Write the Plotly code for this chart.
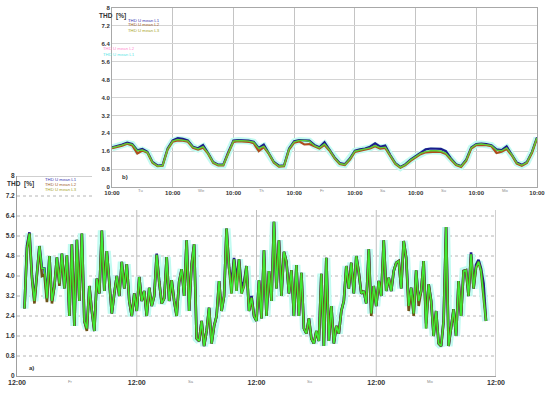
import pandas as pd
import plotly.graph_objects as go

# ---------------- data ----------------
# panel b) : one week, 2-hour readings from Monday 10:00
top_start = "2019-03-04 10:00"
top_step = "2h"
L1_top = [1.77, 1.82, 1.9, 1.98, 1.92, 1.64, 1.7, 1.57, 1.12, 0.96, 0.98, 1.72,
          2.08, 2.18, 2.15, 2.08, 1.8, 1.73, 1.88, 1.52, 1.12, 1.0, 1.0, 1.57,
          2.08, 2.1, 2.1, 2.07, 2.02, 1.75, 1.9, 1.53, 1.12, 0.95, 0.97, 1.72,
          2.05, 2.1, 2.1, 2.07, 1.88, 1.78, 2.0, 1.68, 1.32, 1.07, 1.02, 1.27,
          1.62, 1.68, 1.72, 1.8, 1.95, 1.8, 1.85, 1.43, 1.07, 0.9, 1.02, 1.22,
          1.38, 1.53, 1.68, 1.72, 1.7, 1.7, 1.6, 1.28, 1.02, 0.94, 1.22, 1.77,
          1.92, 1.94, 1.92, 1.87, 1.68, 1.65, 1.82, 1.48, 1.09, 0.99, 1.12, 1.57,
          2.22]
L2_top = [1.74, 1.78, 1.85, 1.93, 1.86, 1.5, 1.63, 1.53, 1.08, 0.93, 0.95, 1.68,
          2.03, 2.08, 2.07, 2.02, 1.75, 1.67, 1.76, 1.48, 1.08, 0.96, 0.96, 1.52,
          2.02, 2.05, 2.05, 2.02, 1.96, 1.6, 1.78, 1.48, 1.08, 0.91, 0.93, 1.67,
          1.98, 2.04, 1.9, 1.92, 1.82, 1.72, 1.88, 1.62, 1.28, 1.03, 0.98, 1.22,
          1.57, 1.62, 1.65, 1.72, 1.82, 1.72, 1.75, 1.38, 1.03, 0.86, 0.98, 1.17,
          1.32, 1.47, 1.55, 1.58, 1.58, 1.57, 1.47, 1.22, 0.98, 0.9, 1.17, 1.72,
          1.87, 1.88, 1.87, 1.82, 1.52, 1.58, 1.7, 1.42, 1.05, 0.95, 1.07, 1.52,
          2.17]
L3_top = [1.75, 1.8, 1.87, 1.95, 1.9, 1.62, 1.65, 1.55, 1.1, 0.94, 0.96, 1.7,
          2.05, 2.12, 2.1, 2.05, 1.78, 1.7, 1.8, 1.5, 1.1, 0.98, 0.98, 1.55,
          2.05, 2.08, 2.08, 2.05, 2.0, 1.72, 1.82, 1.5, 1.1, 0.93, 0.95, 1.7,
          2.02, 2.08, 2.08, 2.05, 1.85, 1.75, 1.92, 1.65, 1.3, 1.05, 1.0, 1.25,
          1.6, 1.65, 1.68, 1.75, 1.85, 1.75, 1.78, 1.4, 1.05, 0.88, 1.0, 1.2,
          1.35, 1.5, 1.58, 1.62, 1.62, 1.6, 1.5, 1.25, 1.0, 0.92, 1.2, 1.75,
          1.9, 1.92, 1.9, 1.85, 1.65, 1.62, 1.75, 1.45, 1.07, 0.97, 1.1, 1.55,
          2.2]

# panel a) : four days, 30-minute readings from Thursday 13:30
bot_start = "2019-02-21 13:30"
bot_step = "30min"
L1_bot = [2.7, 5.2, 5.75, 4.0, 3.0, 4.0, 5.2, 4.3, 4.3, 3.1, 4.8, 3.0,
          3.6, 4.75, 3.7, 4.9, 3.5, 4.83, 2.4, 5.27, 2.0, 5.45, 3.0, 5.7,
          2.2, 1.9, 3.6, 2.6, 1.8, 3.9, 3.3, 5.82, 3.4, 5.0, 3.6, 2.5,
          3.3, 4.0, 3.2, 4.57, 3.5, 4.47, 3.0, 2.4, 3.3, 2.6, 3.96, 3.0,
          3.4, 2.4, 3.53, 2.8, 3.2, 4.9, 3.77, 2.9, 3.1, 4.76, 3.0, 3.83,
          3.0, 2.4, 3.77, 4.27, 3.2, 5.43, 2.6, 4.47, 5.27, 1.5, 1.4, 2.2,
          1.2, 1.8, 2.73, 1.3, 2.0, 2.4, 3.8, 2.6, 3.2, 5.9, 4.33, 3.7,
          4.72, 3.8, 4.67, 3.6, 3.75, 4.4, 2.6, 3.2, 2.4, 2.2, 3.83, 2.3,
          5.03, 2.4, 4.2, 3.0, 6.17, 3.5, 5.43, 3.2, 4.97, 4.57, 3.3, 4.23,
          2.4, 4.44, 2.4, 4.13, 1.9, 1.7, 2.3, 1.5, 1.3, 1.8, 1.4, 4.09,
          1.2, 4.73, 1.4, 2.8, 1.3, 2.0, 1.7, 2.6, 3.0, 4.4, 3.5, 4.53,
          3.3, 4.8, 4.13, 3.3, 3.4, 2.9, 5.07, 2.5, 3.6, 2.8, 3.8, 3.2,
          5.43, 3.4, 3.93, 3.4, 4.2, 4.53, 4.6, 3.5, 5.4, 4.73, 2.8, 3.53,
          2.5, 4.23, 3.0, 3.4, 4.6, 2.1, 3.67, 3.0, 1.6, 2.6, 1.3, 1.2,
          2.2, 5.96, 1.2, 2.0, 2.67, 1.6, 3.8, 2.4, 4.2, 4.23, 3.2, 4.95,
          3.5, 4.45, 4.65, 4.3, 3.7, 2.2]
L2_bot = [2.7, 5.1, 5.7, 3.9, 2.9, 4.0, 5.2, 4.0, 4.05, 2.95, 4.8, 2.9,
          3.6, 4.75, 3.6, 4.9, 3.5, 4.83, 2.4, 5.27, 2.0, 5.45, 3.0, 5.7,
          2.2, 1.8, 3.6, 2.6, 1.8, 3.9, 3.3, 5.82, 3.4, 5.0, 3.6, 2.5,
          3.3, 4.0, 3.2, 4.57, 3.5, 4.47, 3.0, 2.4, 3.3, 2.6, 3.96, 3.0,
          3.4, 2.4, 3.53, 2.8, 3.2, 4.85, 3.77, 2.9, 3.1, 4.76, 3.0, 3.83,
          3.0, 2.4, 3.77, 4.27, 3.2, 5.43, 2.6, 4.47, 5.27, 1.5, 1.4, 2.2,
          1.2, 1.8, 2.73, 1.3, 2.0, 2.4, 3.8, 2.6, 3.2, 5.9, 4.33, 3.3,
          4.67, 3.4, 4.67, 3.3, 3.6, 4.4, 2.6, 3.13, 2.4, 2.2, 3.83, 2.3,
          5.03, 2.4, 4.2, 3.0, 6.17, 3.5, 5.43, 3.2, 4.97, 4.57, 3.3, 4.23,
          2.4, 4.44, 2.4, 4.13, 1.9, 1.7, 2.3, 1.5, 1.3, 1.8, 1.4, 4.09,
          1.2, 4.73, 1.4, 2.8, 1.3, 2.0, 1.7, 2.6, 3.0, 4.4, 3.5, 4.53,
          3.3, 4.8, 4.13, 3.3, 3.4, 2.9, 5.07, 2.4, 3.6, 2.8, 3.8, 3.2,
          5.43, 3.4, 3.93, 3.4, 4.2, 4.53, 4.6, 3.5, 5.4, 4.73, 2.6, 3.53,
          2.4, 4.23, 2.8, 3.4, 4.6, 1.9, 3.67, 3.0, 1.6, 2.6, 1.3, 1.2,
          2.2, 5.96, 1.2, 2.0, 2.67, 1.6, 3.8, 2.4, 4.2, 4.23, 3.2, 4.87,
          3.5, 4.33, 4.57, 4.2, 3.3, 2.2]
L3_bot = [2.7, 5.1, 5.7, 3.9, 3.0, 4.0, 5.2, 4.3, 4.3, 3.1, 4.8, 3.0,
          3.6, 4.75, 3.7, 4.9, 3.5, 4.83, 2.4, 5.27, 2.0, 5.45, 3.0, 5.7,
          2.2, 1.9, 3.6, 2.6, 1.8, 3.9, 3.3, 5.82, 3.4, 5.0, 3.6, 2.5,
          3.3, 4.0, 3.2, 4.57, 3.5, 4.47, 3.0, 2.4, 3.3, 2.6, 3.96, 3.0,
          3.4, 2.4, 3.53, 2.8, 3.2, 4.85, 3.77, 2.9, 3.1, 4.76, 3.0, 3.83,
          3.0, 2.4, 3.77, 4.27, 3.2, 5.43, 2.6, 4.47, 5.27, 1.5, 1.4, 2.2,
          1.2, 1.8, 2.73, 1.3, 2.0, 2.4, 3.8, 2.6, 3.2, 5.9, 4.33, 3.3,
          4.67, 3.4, 4.67, 3.3, 3.6, 4.4, 2.6, 3.13, 2.4, 2.2, 3.83, 2.3,
          5.03, 2.4, 4.2, 3.0, 6.17, 3.5, 5.43, 3.2, 4.97, 4.57, 3.3, 4.23,
          2.4, 4.44, 2.4, 4.13, 1.9, 1.7, 2.3, 1.5, 1.3, 1.8, 1.4, 4.09,
          1.2, 4.73, 1.4, 2.8, 1.3, 2.0, 1.7, 2.6, 3.0, 4.4, 3.5, 4.53,
          3.3, 4.8, 4.13, 3.3, 3.4, 2.9, 5.07, 2.5, 3.6, 2.8, 3.8, 3.2,
          5.43, 3.4, 3.93, 3.4, 4.2, 4.53, 4.6, 3.5, 5.4, 4.73, 2.8, 3.53,
          2.5, 4.23, 3.0, 3.4, 4.6, 1.9, 3.67, 3.0, 1.6, 2.6, 1.3, 1.2,
          2.2, 5.96, 1.2, 2.0, 2.67, 1.6, 3.8, 2.4, 4.2, 4.23, 3.2, 4.87,
          3.5, 4.33, 4.57, 4.2, 3.3, 2.2]

y_tick_vals = [0, 0.8, 1.6, 2.4, 3.2, 4.0, 4.8, 5.6, 6.4, 7.2, 8]
y_tick_text = ["0", "0.8", "1.6", "2.4", "3.2", "4.0", "4.8", "5.6", "6.4", "7.2", "8"]
top_tick_times = ["2019-03-%02d 10:00" % d for d in range(4, 12)]
top_tick_text = ["10:00"] * 8
top_day_names = ["Tu", "We", "Th", "Fr", "Sa", "Su", "Mo"]
bot_tick_times = ["2019-02-%02d 12:00" % d for d in range(21, 26)]
bot_tick_text = ["12:00"] * 5
bot_day_names = ["Fr", "Sa", "Su", "Mo"]
series_names = ["THD U mean L1", "THD U mean L2", "THD U mean L3"]
y_title = "THD  [%]"

# ---------------- figure ----------------
W, H = 550, 393
def px(x):
    return x / W
def py(y):
    return (H - y) / H

FONT = "Liberation Sans, Arial, sans-serif"
C1, C2, C3 = "#1c1c8c", "#6e5418", "#3cec34"
C3T = "#5ccf38"
HALO = "#c2fbf1"

t_top = pd.date_range(top_start, periods=len(L3_top), freq=top_step)
t_bot = pd.date_range(bot_start, periods=len(L3_bot), freq=bot_step)

fig = go.Figure()
# bottom panel a)
fig.add_trace(go.Scatter(x=t_bot, y=L3_bot, mode="lines", line=dict(color=HALO, width=8),
                         hoverinfo="skip", showlegend=False, xaxis="x", yaxis="y"))
fig.add_trace(go.Scatter(x=t_bot, y=L1_bot, mode="lines", line=dict(color=C1, width=2.6),
                         name=series_names[0], showlegend=False, xaxis="x", yaxis="y"))
fig.add_trace(go.Scatter(x=t_bot, y=L2_bot, mode="lines", line=dict(color=C2, width=2.6),
                         name=series_names[1], showlegend=False, xaxis="x", yaxis="y"))
fig.add_trace(go.Scatter(x=t_bot, y=L3_bot, mode="lines", line=dict(color=C3, width=1.5),
                         name=series_names[2], showlegend=False, xaxis="x", yaxis="y"))
# top panel b)
fig.add_trace(go.Scatter(x=t_top, y=L3_top, mode="lines", line=dict(color=HALO, width=7),
                         hoverinfo="skip", showlegend=False, xaxis="x2", yaxis="y2"))
fig.add_trace(go.Scatter(x=t_top, y=L1_top, mode="lines", line=dict(color=C1, width=2.2),
                         name=series_names[0], showlegend=False, xaxis="x2", yaxis="y2"))
fig.add_trace(go.Scatter(x=t_top, y=L2_top, mode="lines", line=dict(color="#b04a1c", width=2.2),
                         name=series_names[1], showlegend=False, xaxis="x2", yaxis="y2"))
fig.add_trace(go.Scatter(x=t_top, y=L3_top, mode="lines", line=dict(color=C3T, width=1.4),
                         name=series_names[2], showlegend=False, xaxis="x2", yaxis="y2"))

tick_font_b = dict(family=FONT, size=7, color="#333333", weight="bold")
ytick_font_b = dict(family=FONT, size=6.5, color="#333333", weight="bold")
tick_font_t = dict(family=FONT, size=6, color="#333333", weight="bold")

fig.update_layout(
    width=W, height=H, margin=dict(l=0, r=0, t=0, b=0, autoexpand=False),
    paper_bgcolor="white", plot_bgcolor="rgba(0,0,0,0)", showlegend=False,
    xaxis=dict(domain=[px(17), px(496)], range=[bot_tick_times[0], bot_tick_times[-1]],
               type="date", tickmode="array", tickvals=bot_tick_times, ticktext=bot_tick_text,
               tickfont=tick_font_b, showgrid=False, zeroline=False, showline=True,
               linecolor="#a0a0a0", linewidth=1, ticks="", anchor="y", automargin=False),
    yaxis=dict(domain=[py(376), py(176)], range=[0, 8], tickmode="array",
               tickvals=y_tick_vals, ticktext=y_tick_text, tickfont=ytick_font_b,
               showgrid=False, zeroline=False, showline=True, linecolor="#a0a0a0",
               linewidth=1, ticks="", anchor="x", automargin=False),
    xaxis2=dict(domain=[px(112), px(537)], range=[top_tick_times[0], top_tick_times[-1]],
                type="date", tickmode="array", tickvals=top_tick_times, ticktext=top_tick_text,
                tickfont=tick_font_t, showgrid=True, gridcolor="#c4c4c4", gridwidth=1,
                zeroline=False, showline=True, mirror=True, linecolor="#a8a8a8",
                ticks="", anchor="y2", automargin=False),
    yaxis2=dict(domain=[py(187), py(8)], range=[0, 8], tickmode="array",
                tickvals=y_tick_vals, ticktext=y_tick_text, tickfont=tick_font_t,
                showgrid=True, gridcolor="#d4d4d4", gridwidth=1, zeroline=False,
                showline=True, mirror=True, linecolor="#a8a8a8", ticks="", anchor="x2",
                automargin=False),
)

shapes = []
# bottom panel horizontal (dotted) grid lines; the upper ones are hidden behind panel b)
for v in y_tick_vals[1:]:
    x1 = 496 if v <= 6.4 else 92
    if v == 8:
        shapes.append(dict(type="line", xref="paper", yref="y", x0=px(17), x1=px(92),
                           y0=v, y1=v, line=dict(color="#a0a0a0", width=1), layer="below"))
    else:
        shapes.append(dict(type="line", xref="paper", yref="y", x0=px(17), x1=px(x1),
                           y0=v, y1=v, line=dict(color="#b4b4b4", width=1, dash="dot"),
                           layer="below"))
# bottom panel vertical grid lines (hidden above panel b)'s labels)
for t in bot_tick_times[1:-1]:
    shapes.append(dict(type="line", xref="x", yref="paper", x0=t, x1=t, y0=py(376), y1=py(210),
                       line=dict(color="#c0c0c0", width=1), layer="below"))
shapes.append(dict(type="line", xref="x", yref="paper", x0=bot_tick_times[-1], x1=bot_tick_times[-1],
                   y0=py(376), y1=py(210), line=dict(color="#a0a0a0", width=1), layer="below"))
fig.update_layout(shapes=shapes)

ann = []
small = dict(family=FONT, size=4.2, color="#8a8a8a")
for k, nm in enumerate(top_day_names):
    t = pd.Timestamp(top_tick_times[0]) + pd.Timedelta(days=k + 0.47)
    ann.append(dict(x=t, y=py(190.5), xref="x2", yref="paper", text=nm, showarrow=False,
                    font=small, xanchor="center", yanchor="middle"))
for k, nm in enumerate(bot_day_names):
    t = pd.Timestamp(bot_tick_times[0]) + pd.Timedelta(days=k + 0.45)
    ann.append(dict(x=t, y=py(381), xref="x", yref="paper", text=nm, showarrow=False,
                    font=small, xanchor="center", yanchor="middle"))
title_font = dict(family=FONT, size=6.5, color="#333333", weight="bold")
ann.append(dict(x=px(97), y=py(16), xref="paper", yref="paper", text=y_title, showarrow=False,
                font=title_font, xanchor="left", yanchor="middle"))
ann.append(dict(x=px(5), y=py(184), xref="paper", yref="paper", text=y_title, showarrow=False,
                font=title_font, xanchor="left", yanchor="middle"))
leg_cols = ["#3a34b0", "#a0602a", "#a8a428"]
for i, nm in enumerate(series_names):
    ann.append(dict(x=px(126), y=py(20 + 5 * i), xref="paper", yref="paper", text=nm,
                    showarrow=False, font=dict(family=FONT, size=4.3, color=leg_cols[i]),
                    xanchor="left", yanchor="middle"))
    ann.append(dict(x=px(43), y=py(179 + 5 * i), xref="paper", yref="paper", text=nm,
                    showarrow=False, font=dict(family=FONT, size=4.3, color=leg_cols[i]),
                    xanchor="left", yanchor="middle"))
ann.append(dict(x=px(101), y=py(49), xref="paper", yref="paper", text=series_names[1],
                showarrow=False, font=dict(family=FONT, size=4.3, color="#ff8cd0"),
                xanchor="left", yanchor="middle"))
ann.append(dict(x=px(101), y=py(54), xref="paper", yref="paper", text=series_names[0],
                showarrow=False, font=dict(family=FONT, size=4.3, color="#5ce6e6"),
                xanchor="left", yanchor="middle"))
lab_font = dict(family=FONT, size=6, color="#333333", weight="bold")
ann.append(dict(x=px(120), y=py(177), xref="paper", yref="paper", text="b)", showarrow=False,
                font=lab_font, xanchor="left", yanchor="middle"))
ann.append(dict(x=px(27), y=py(368), xref="paper", yref="paper", text="a)", showarrow=False,
                font=lab_font, xanchor="left", yanchor="middle"))
fig.update_layout(annotations=ann)

fig.write_html("out.html", config={"displayModeBar": False},
               post_script="document.body.style.margin='0px';")
